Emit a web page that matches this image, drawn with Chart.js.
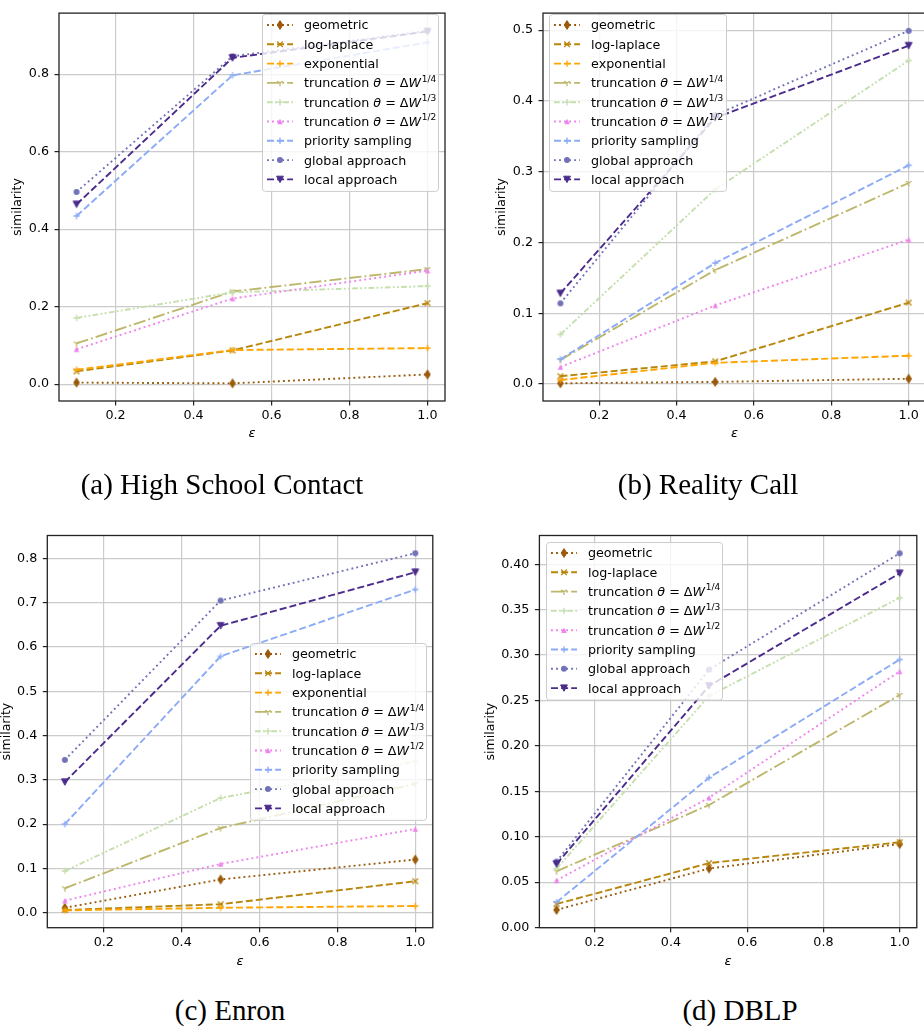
<!DOCTYPE html>
<html><head><meta charset="utf-8">
<script src="https://cdn.jsdelivr.net/npm/chart.js@4.4.0/dist/chart.umd.min.js"></script>
<style>
html,body{margin:0;padding:0;background:#fff;overflow:hidden;width:924px;height:1029px;position:relative;}
canvas{position:absolute;}
.cap{position:absolute;font-family:"Liberation Serif","Times New Roman",serif;font-size:29px;color:#000;white-space:nowrap;transform:translate(-50%,-50%);}
</style></head><body>
<canvas id="cA"></canvas>
<canvas id="cB"></canvas>
<canvas id="cC"></canvas>
<canvas id="cD"></canvas>
<div class="cap" style="left:222px;top:484px">(a) High School Contact</div>
<div class="cap" style="left:708px;top:484px">(b) Reality Call</div>
<div class="cap" style="left:230px;top:1010px">(c) Enron</div>
<div class="cap" style="left:740px;top:1010px">(d) DBLP</div>
<script>
// ---------- data ----------
const epsilon = [0.1, 0.5, 1.0];
const xTickValues = [0.2, 0.4, 0.6, 0.8, 1.0];

const seriesLabels = ['geometric', 'log-laplace', 'exponential',
  'truncation θ = ΔW^1/4', 'truncation θ = ΔW^1/3', 'truncation θ = ΔW^1/2',
  'priority sampling', 'global approach', 'local approach'];

// (a) High School Contact
const hscGeometric   = [0.004, 0.002, 0.025];
const hscLogLaplace  = [0.033, 0.087, 0.209];
const hscExponential = [0.037, 0.088, 0.093];
const hscTrunc14     = [0.105, 0.239, 0.297];
const hscTrunc13     = [0.171, 0.237, 0.253];
const hscTrunc12     = [0.090, 0.221, 0.293];
const hscPriority    = [0.434, 0.797, 0.882];
const hscGlobal      = [0.496, 0.846, 0.912];
const hscLocal       = [0.464, 0.842, 0.910];
const hscYTicks      = [0.0, 0.2, 0.4, 0.6, 0.8];

// (b) Reality Call
const rcGeometric   = [0.001, 0.003, 0.0074];
const rcLogLaplace  = [0.011, 0.032, 0.115];
const rcExponential = [0.0056, 0.030, 0.040];
const rcTrunc14     = [0.034, 0.161, 0.284];
const rcTrunc13     = [0.070, 0.275, 0.457];
const rcTrunc12     = [0.024, 0.111, 0.204];
const rcPriority    = [0.035, 0.171, 0.309];
const rcGlobal      = [0.114, 0.380, 0.499];
const rcLocal       = [0.128, 0.376, 0.478];
const rcYTicks      = [0.0, 0.1, 0.2, 0.3, 0.4, 0.5];

// (c) Enron
const enGeometric   = [0.011, 0.075, 0.120];
const enLogLaplace  = [0.006, 0.019, 0.071];
const enExponential = [0.005, 0.011, 0.015];
const enTrunc14     = [0.055, 0.191, 0.291];
const enTrunc13     = [0.094, 0.259, 0.342];
const enTrunc12     = [0.027, 0.110, 0.189];
const enPriority    = [0.200, 0.579, 0.730];
const enGlobal      = [0.345, 0.705, 0.812];
const enLocal       = [0.295, 0.648, 0.769];
const enYTicks      = [0.0, 0.1, 0.2, 0.3, 0.4, 0.5, 0.6, 0.7, 0.8];

// (d) DBLP (no exponential)
const dbGeometric   = [0.0195, 0.065, 0.092];
const dbLogLaplace  = [0.026, 0.071, 0.094];
const dbTrunc14     = [0.062, 0.135, 0.256];
const dbTrunc13     = [0.065, 0.255, 0.363];
const dbTrunc12     = [0.052, 0.143, 0.282];
const dbPriority    = [0.028, 0.165, 0.295];
const dbGlobal      = [0.0727, 0.284, 0.412];
const dbLocal       = [0.070, 0.266, 0.390];
const dbYTicks      = [0.00, 0.05, 0.10, 0.15, 0.20, 0.25, 0.30, 0.35, 0.40];

// ---------- styles ----------
const LW = 1.9;
const FONT = '"DejaVu Sans", "Liberation Sans", sans-serif';
const STYLE = {
  'geometric':              {color:'#9a5a0a', dash:'dot',   marker:'thin_diamond'},
  'log-laplace':            {color:'#b8860b', dash:'dash',  marker:'x'},
  'exponential':            {color:'#ffa500', dash:'dash',  marker:'plus'},
  'truncation θ = ΔW^1/4':  {color:'#bdb76b', dash:'dashdot', marker:'tri_down'},
  'truncation θ = ΔW^1/3':  {color:'#c5dfae', dash:'dashdotdot', marker:'plus'},
  'truncation θ = ΔW^1/2':  {color:'#ee82ee', dash:'dot',   marker:'tri_up'},
  'priority sampling':      {color:'#8cabf7', dash:'dash',  marker:'plus'},
  'global approach':        {color:'#7272b8', dash:'dot',   marker:'circle'},
  'local approach':         {color:'#4b2c8c', dash:'dash',  marker:'tri_v'}
};
function dashArray(d){
  switch(d){
    case 'dot': return [LW*1.0, LW*1.65];
    case 'dash': return [LW*3.7, LW*1.6];
    case 'dashdot': return [LW*6.4, LW*1.6, LW*1.0, LW*1.6];
    case 'dashdotdot': return [LW*3, LW*1.2, LW*1, LW*1.2, LW*1, LW*1.2];
  }
  return [];
}
function drawMarker(ctx, type, cx, cy, color){
  ctx.save();
  ctx.setLineDash([]);
  ctx.fillStyle = color; ctx.strokeStyle = color; ctx.lineWidth = 1.3; ctx.lineCap='butt';
  ctx.beginPath();
  switch(type){
    case 'thin_diamond':
      ctx.moveTo(cx, cy-4.4); ctx.lineTo(cx+2.8, cy); ctx.lineTo(cx, cy+4.4); ctx.lineTo(cx-2.8, cy); ctx.closePath();
      ctx.fill(); ctx.lineWidth=1; ctx.stroke(); break;
    case 'x':
      ctx.moveTo(cx-2.8, cy-2.8); ctx.lineTo(cx+2.8, cy+2.8);
      ctx.moveTo(cx-2.8, cy+2.8); ctx.lineTo(cx+2.8, cy-2.8); ctx.stroke(); break;
    case 'plus':
      ctx.moveTo(cx-3.2, cy); ctx.lineTo(cx+3.2, cy);
      ctx.moveTo(cx, cy-3.2); ctx.lineTo(cx, cy+3.2); ctx.stroke(); break;
    case 'tri_down':
      ctx.moveTo(cx, cy); ctx.lineTo(cx, cy+3.4);
      ctx.moveTo(cx, cy); ctx.lineTo(cx-2.9, cy-1.7);
      ctx.moveTo(cx, cy); ctx.lineTo(cx+2.9, cy-1.7); ctx.stroke(); break;
    case 'tri_up':
      ctx.moveTo(cx, cy-2.7); ctx.lineTo(cx+2.7, cy+2.7); ctx.lineTo(cx-2.7, cy+2.7); ctx.closePath();
      ctx.fill(); break;
    case 'circle':
      ctx.arc(cx, cy, 3.0, 0, Math.PI*2); ctx.fill(); break;
    case 'tri_v':
      ctx.moveTo(cx-3.4, cy-3.2); ctx.lineTo(cx+3.4, cy-3.2); ctx.lineTo(cx, cy+3.2); ctx.closePath();
      ctx.fill(); ctx.lineWidth=1; ctx.stroke(); break;
  }
  ctx.restore();
}
function markerImage(type, color){
  const c = document.createElement('canvas'); c.width = 16; c.height = 16;
  drawMarker(c.getContext('2d'), type, 8, 8, color);
  return c;
}
function drawLabel(ctx, label, x, cy){
  const base = 12.7;
  const yb = cy + 4.4;
  ctx.fillStyle = '#000';
  ctx.textBaseline = 'alphabetic'; ctx.textAlign = 'left';
  const parts = label.split('^');
  const main = parts[0];
  let cx = x;
  const isMath = main.indexOf('θ') >= 0;
  for (const ch of main) {
    const ital = isMath && (ch === 'θ' || ch === 'W');
    ctx.font = (ital ? 'italic ' : '') + base + 'px ' + FONT;
    ctx.fillText(ch, cx, yb);
    cx += ctx.measureText(ch).width;
  }
  if (parts[1]) {
    ctx.font = '9px ' + FONT;
    ctx.fillText(parts[1], cx + 0.8, yb - 5.6);
  }
}

// ---------- plugins ----------
const framePlugin = {
  id: 'frame',
  afterDatasetsDraw(chart){
    const a = chart.chartArea, ctx = chart.ctx;
    ctx.save(); ctx.strokeStyle = '#222'; ctx.lineWidth = 1.3; ctx.setLineDash([]);
    ctx.strokeRect(a.left, a.top, a.right - a.left, a.bottom - a.top);
    ctx.restore();
  }
};
const legendPlugin = {
  id: 'mplLegend',
  afterDraw(chart, args, opts){
    const ctx = chart.ctx; const b = opts.box;
    const n = chart.data.datasets.length;
    const h = 11 + (n-1)*19.3 + 11.5;
    ctx.save();
    ctx.beginPath();
    if (ctx.roundRect) ctx.roundRect(b.x+0.5, b.y+0.5, b.w, h, 3); else ctx.rect(b.x+0.5, b.y+0.5, b.w, h);
    ctx.fillStyle = 'rgba(255,255,255,0.8)'; ctx.fill();
    ctx.strokeStyle = '#cccccc'; ctx.lineWidth = 1; ctx.stroke();
    chart.data.datasets.forEach((ds, i) => {
      const st = STYLE[ds.label];
      const cy = b.y + 11 + i*19.3;
      ctx.strokeStyle = st.color; ctx.lineWidth = LW; ctx.setLineDash(dashArray(st.dash)); ctx.lineCap='butt';
      ctx.beginPath(); ctx.moveTo(b.x+5, cy); ctx.lineTo(b.x+31, cy); ctx.stroke();
      ctx.setLineDash([]);
      drawMarker(ctx, st.marker, b.x+18, cy, st.color);
      drawLabel(ctx, ds.label, b.x+42, cy);
    });
    ctx.restore();
  }
};

// ---------- panels ----------
function makeChart(p){
  const canvas = document.getElementById(p.id);
  canvas.width = p.w; canvas.height = p.h;
  canvas.style.left = p.left + 'px'; canvas.style.top = p.top + 'px';
  const n = p.series.length;
  const datasets = p.series.map((s, i) => {
    const st = STYLE[s.label];
    return {
      label: s.label,
      data: epsilon.map((x, j) => ({x: x, y: s.values[j]})),
      borderColor: st.color, backgroundColor: st.color,
      borderWidth: LW, borderDash: dashArray(st.dash), borderCapStyle: 'butt',
      pointStyle: markerImage(st.marker, st.color), pointRadius: 4, pointHoverRadius: 4,
      tension: 0, fill: false, order: n - i
    };
  });
  const tickFont = {family: FONT, size: 12.7};
  new Chart(canvas, {
    type: 'line',
    data: {datasets},
    options: {
      responsive: false, animation: false, devicePixelRatio: 1, events: [],
      layout: {padding: {left: 0, top: p.padTop, right: p.padRight, bottom: 0}},
      plugins: {legend: {display: false}, tooltip: {enabled: false}, mplLegend: {box: p.legendBox}},
      scales: {
        x: {
          type: 'linear', min: 0.055, max: 1.045,
          afterFit(s){ s.height = p.xAxisH; },
          afterBuildTicks(s){ s.ticks = xTickValues.map(v => ({value: v})); },
          ticks: {callback: v => Number(v).toFixed(1), font: tickFont, color: '#000', padding: 3, maxRotation: 0, autoSkip: false},
          grid: {color: '#cbcbcb', lineWidth: 1.2, tickLength: 4.5, tickColor: '#222', tickWidth: 1.2, drawTicks: true},
          border: {display: false},
          title: {display: true, text: 'ε', color: '#000', font: {family: FONT, size: 13, style: 'italic'}, padding: {top: 0, bottom: p.xTitlePad}}
        },
        y: {
          type: 'linear', min: p.yMin, max: p.yMax,
          afterFit(s){ s.width = p.yAxisW; },
          afterBuildTicks(s){ s.ticks = p.yTicks.map(v => ({value: v})); },
          ticks: {callback: v => Number(v).toFixed(p.dec), font: tickFont, color: '#000', padding: 5.5, autoSkip: false},
          grid: {color: '#cbcbcb', lineWidth: 1.2, tickLength: 4.5, tickColor: '#222', tickWidth: 1.2, drawTicks: true},
          border: {display: false},
          title: {display: true, text: 'similarity', color: '#000', font: {family: FONT, size: 12.5}, padding: {top: p.yTitlePad, bottom: 0}}
        }
      }
    },
    plugins: [framePlugin, legendPlugin]
  });
}

const S = (arrs) => arrs.map(([label, values]) => ({label, values}));

makeChart({
  id: 'cA', left: 0, top: 0, w: 462, h: 450,
  yAxisW: 59, padTop: 8, padRight: 17, xAxisH: 49, xTitlePad: 8.9, yTitlePad: 10.5,
  yMin: -0.0435, yMax: 0.9575, yTicks: hscYTicks, dec: 1,
  legendBox: {x: 262, y: 14, w: 176},
  series: S([[seriesLabels[0], hscGeometric], [seriesLabels[1], hscLogLaplace], [seriesLabels[2], hscExponential],
    [seriesLabels[3], hscTrunc14], [seriesLabels[4], hscTrunc13], [seriesLabels[5], hscTrunc12],
    [seriesLabels[6], hscPriority], [seriesLabels[7], hscGlobal], [seriesLabels[8], hscLocal]])
});
makeChart({
  id: 'cB', left: 462, top: 0, w: 470, h: 450,
  yAxisW: 81, padTop: 8, padRight: 3, xAxisH: 49, xTitlePad: 8.9, yTitlePad: 32.5,
  yMin: -0.024, yMax: 0.524, yTicks: rcYTicks, dec: 1,
  legendBox: {x: 87, y: 14, w: 177},
  series: S([[seriesLabels[0], rcGeometric], [seriesLabels[1], rcLogLaplace], [seriesLabels[2], rcExponential],
    [seriesLabels[3], rcTrunc14], [seriesLabels[4], rcTrunc13], [seriesLabels[5], rcTrunc12],
    [seriesLabels[6], rcPriority], [seriesLabels[7], rcGlobal], [seriesLabels[8], rcLocal]])
});
makeChart({
  id: 'cC', left: 0, top: 490, w: 462, h: 500,
  yAxisW: 47.3, padTop: 45.5, padRight: 29.2, xAxisH: 62.3, xTitlePad: 20.5, yTitlePad: -0.8,
  yMin: -0.034, yMax: 0.852, yTicks: enYTicks, dec: 1,
  legendBox: {x: 250, y: 153, w: 176},
  series: S([[seriesLabels[0], enGeometric], [seriesLabels[1], enLogLaplace], [seriesLabels[2], enExponential],
    [seriesLabels[3], enTrunc14], [seriesLabels[4], enTrunc13], [seriesLabels[5], enTrunc12],
    [seriesLabels[6], enPriority], [seriesLabels[7], enGlobal], [seriesLabels[8], enLocal]])
});
makeChart({
  id: 'cD', left: 462, top: 490, w: 462, h: 500,
  yAxisW: 77.4, padTop: 45.5, padRight: 7.2, xAxisH: 62.3, xTitlePad: 20.5, yTitlePad: 20.8,
  yMin: -0.0001, yMax: 0.4316, yTicks: dbYTicks, dec: 2,
  legendBox: {x: 84, y: 52, w: 176},
  series: S([[seriesLabels[0], dbGeometric], [seriesLabels[1], dbLogLaplace],
    [seriesLabels[3], dbTrunc14], [seriesLabels[4], dbTrunc13], [seriesLabels[5], dbTrunc12],
    [seriesLabels[6], dbPriority], [seriesLabels[7], dbGlobal], [seriesLabels[8], dbLocal]])
});
</script>
</body></html>
